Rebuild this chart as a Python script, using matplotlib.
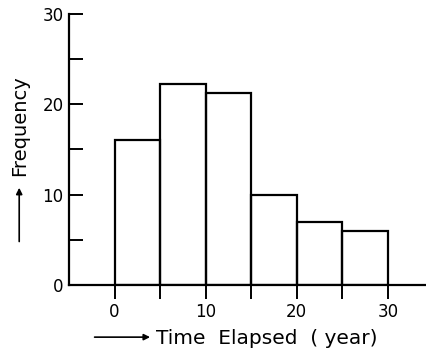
import matplotlib
matplotlib.use("Agg")
import matplotlib.pyplot as plt

# histogram of time elapsed, 5-year bins
binStarts = [0, 5, 10, 15, 20, 25]
binWidth = 5
counts = [16, 22.2, 21.2, 10, 7, 6]
xTicks = [0, 5, 10, 15, 20, 25, 30]
xTickLabels = ["0", "", "10", "", "20", "", "30"]
yTicks = [0, 5, 10, 15, 20, 25, 30]
yTickLabels = ["0", "", "10", "", "20", "", "30"]

plt.rcParams["font.family"] = ["DejaVu Sans"]

fig = plt.figure(figsize=(4.27, 3.49), dpi=100)
ax = fig.add_axes([0.1616, 0.1834, 0.8384, 0.7766])

ax.bar(binStarts, counts, width=binWidth, align="edge", fill=False,
       edgecolor="black", linewidth=1.6)

ax.set_xlim(-5, 34.3)
ax.set_ylim(0, 30)
ax.spines["top"].set_visible(False)
ax.spines["right"].set_visible(False)
ax.spines["left"].set_linewidth(1.6)
ax.spines["bottom"].set_linewidth(1.6)

ax.set_xticks(xTicks)
ax.set_xticklabels(xTickLabels)
ax.set_yticks(yTicks)
ax.set_yticklabels(yTickLabels)
ax.tick_params(axis="x", direction="out", length=10, width=1.4, pad=3, labelsize=12)
ax.tick_params(axis="y", direction="in", length=10, width=1.4, pad=4, labelsize=12)

# axis titles with arrows, like the original drawing
fig.text(0.366, 0.030, "Time  Elapsed  ( year)", fontsize=14.5, ha="left", va="center")
ax.annotate("", xy=(0.358, 0.034), xytext=(0.215, 0.034), xycoords="figure fraction",
            arrowprops=dict(arrowstyle="-|>", color="black", lw=1.2, mutation_scale=9))
fig.text(0.045, 0.64, "Frequency", fontsize=14, rotation=90, ha="center", va="center")
ax.annotate("", xy=(0.045, 0.47), xytext=(0.045, 0.30), xycoords="figure fraction",
            arrowprops=dict(arrowstyle="-|>", color="black", lw=1.2, mutation_scale=9))

fig.savefig("out.png", dpi=100)
